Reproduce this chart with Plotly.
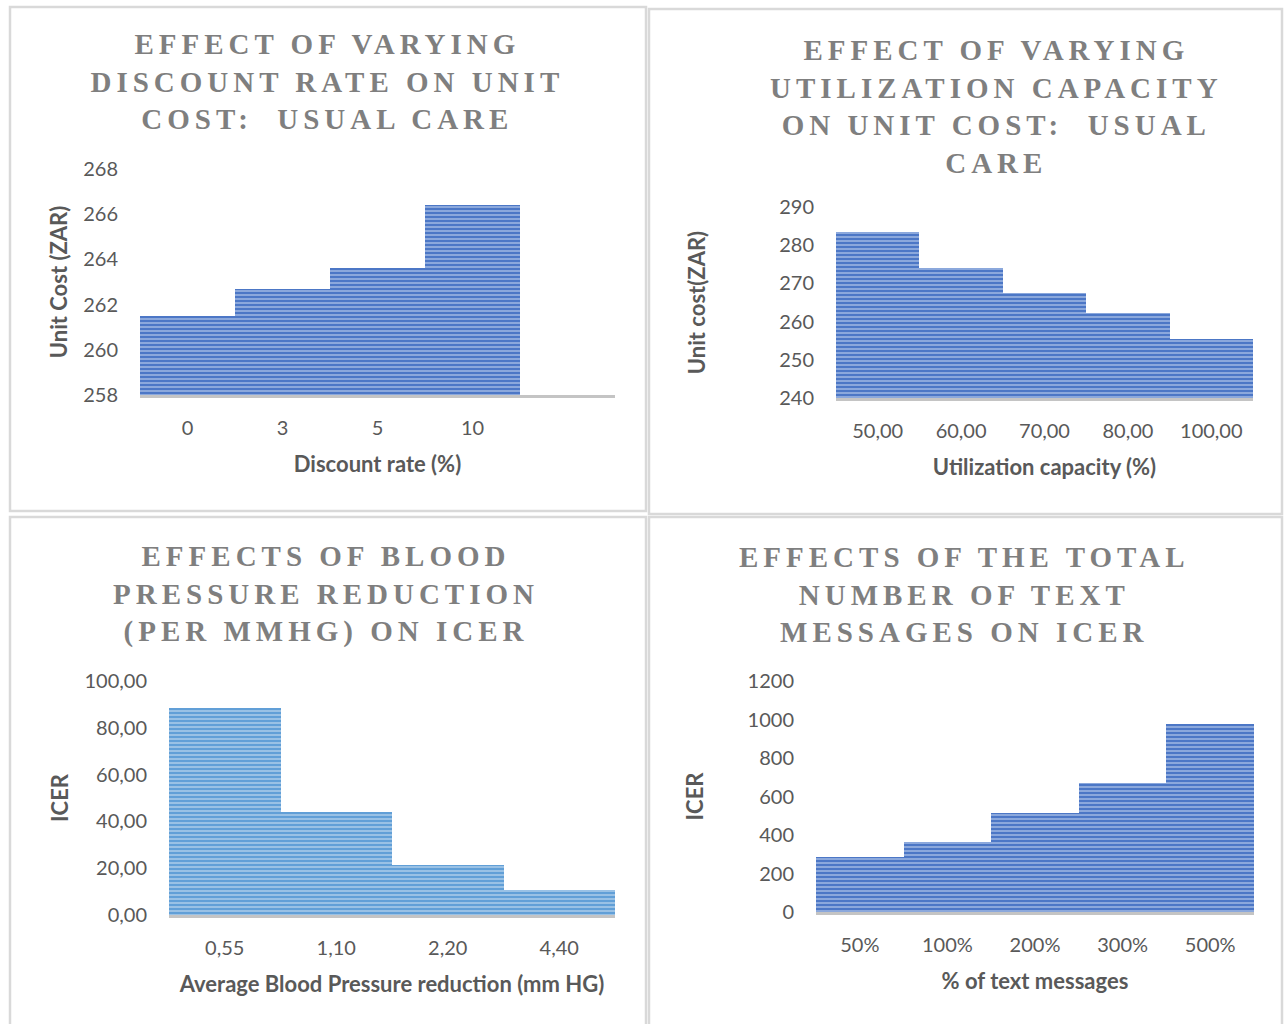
import plotly.graph_objects as go

# ---------------- data ----------------
discount_rates = ["0", "3", "5", "10"]
unit_cost_discount = [261.5, 262.7, 263.6, 266.4]

utilization = ["50,00", "60,00", "70,00", "80,00", "100,00"]
unit_cost_util = [283.5, 274.1, 267.4, 262.3, 255.4]

bp_reduction = ["0,55", "1,10", "2,20", "4,40"]
icer_bp = [88.3, 44.0, 21.5, 10.6]

text_msgs = ["50%", "100%", "200%", "300%", "500%"]
icer_text = [287, 365, 516, 672, 977]

titles = [
    "EFFECT OF VARYING<br>DISCOUNT RATE ON UNIT<br>COST:  USUAL CARE",
    "EFFECT OF VARYING<br>UTILIZATION CAPACITY<br>ON UNIT COST:  USUAL<br>CARE",
    "EFFECTS OF BLOOD<br>PRESSURE REDUCTION<br>(PER MMHG) ON ICER",
    "EFFECTS OF THE TOTAL<br>NUMBER OF TEXT<br>MESSAGES ON ICER",
]
x_titles = ["Discount rate (%)", "Utilization capacity (%)",
            "Average Blood Pressure reduction (mm HG)", "% of text messages"]
y_titles = ["Unit Cost (ZAR)", "Unit cost(ZAR)", "ICER", "ICER"]

# ---------------- layout helpers ----------------
W, H = 1285, 1024


def fx(p):
    return p / W


def fy(p):
    return 1 - p / H


TICK = "#595959"
FONT = "Lato"

fig = go.Figure()


def bar(x, y, ax, dark, light):
    fig.add_trace(go.Bar(
        x=x, y=y, xaxis="x" + ax, yaxis="y" + ax, showlegend=False,
        marker=dict(color=dark,
                    line=dict(width=0),
                    pattern=dict(shape="-", bgcolor=dark, fgcolor=light,
                                 size=4, solidity=0.55, fillmode="overlay")),
    ))


bar(discount_rates, unit_cost_discount, "", "#4472c4", "#d2def4")
bar(utilization, unit_cost_util, "2", "#4472c4", "#d2def4")
bar(bp_reduction, icer_bp, "3", "#5b9bd5", "#d8e7f6")
bar(text_msgs, icer_text, "4", "#4472c4", "#d2def4")

# plot areas (pixel coords): x0, x1, y_top, y_bottom
areas = [
    (140, 615, 169, 395),
    (836, 1253, 207, 398),
    (169, 615, 681, 915),
    (816, 1254, 681, 912),
]
yranges = [[258, 268], [240, 290], [0, 100], [0, 1200]]
ydticks = [2, 10, 20, 200]
yformats = ["d", "d", ".2f", "d"]
xranges = [[-0.5, 4.5], [-0.5, 4.5], [-0.5, 3.5], [-0.5, 4.5]]
y_standoff = [9, 67, 9, 37]

layout = dict(
    width=W, height=H, margin=dict(l=0, r=0, t=0, b=0, autoexpand=False),
    paper_bgcolor="white", plot_bgcolor="white",
    bargap=0, separators=",.",
    font=dict(family=FONT, color=TICK, size=20),
    showlegend=False,
)

for i, (x0, x1, yt, yb) in enumerate(areas):
    s = "" if i == 0 else str(i + 1)
    layout["xaxis" + s] = dict(
        domain=[fx(x0), fx(x1)], anchor="y" + s, type="category",
        range=xranges[i], showline=True, linecolor="#c4c4c4", linewidth=2.5,
        showgrid=False, zeroline=False, ticks="", ticklabelstandoff=13,
        automargin=False,
        tickfont=dict(family=FONT, size=20, color=TICK),
        title=dict(text=x_titles[i], standoff=19,
                   font=dict(family=FONT, size=22, color=TICK, weight="bold")),
        fixedrange=True,
    )
    layout["yaxis" + s] = dict(
        domain=[fy(yb), fy(yt)], anchor="x" + s, range=yranges[i],
        dtick=ydticks[i], tick0=0, tickformat=yformats[i],
        showline=False, showgrid=False, zeroline=False, ticks="",
        ticklabelstandoff=21, automargin=False,
        tickfont=dict(family=FONT, size=20, color=TICK),
        title=dict(text=y_titles[i], standoff=y_standoff[i],
                   font=dict(family=FONT, size=22, color=TICK, weight="bold")),
        fixedrange=True,
    )

fig.update_layout(**layout)

# chart titles
title_pos = [(327, 81), (996, 106), (326, 594), (964, 594)]
for t, (cx, cy) in zip(titles, title_pos):
    fig.add_annotation(
        text=t, xref="paper", yref="paper", x=fx(cx), y=fy(cy),
        xanchor="center", yanchor="middle", showarrow=False, align="center",
        font=dict(family="Liberation Serif", size=29, color="#7f7f7f", weight="bold"),
    )

# panel borders
panels = [(10, 646, 7, 511), (649, 1282, 9, 514), (10, 646, 517, 1030), (649, 1282, 517, 1030)]
for (x0, x1, y0, y1) in panels:
    fig.add_shape(type="rect", xref="paper", yref="paper",
                  x0=fx(x0), x1=fx(x1), y0=fy(y0), y1=fy(y1),
                  line=dict(color="#d9d9d9", width=2.5), layer="below")

post = """
var st=document.createElement('style');
st.textContent='html,body{margin:0;padding:0;overflow:hidden;}';
document.head.appendChild(st);
document.querySelectorAll('text.annotation-text').forEach(function(t){
  if((t.getAttribute('style')||'').indexOf('Serif')>=0){ t.style.letterSpacing='5px'; }
});
"""

fig.write_html("out.html", post_script=post, config={"displayModeBar": False})
